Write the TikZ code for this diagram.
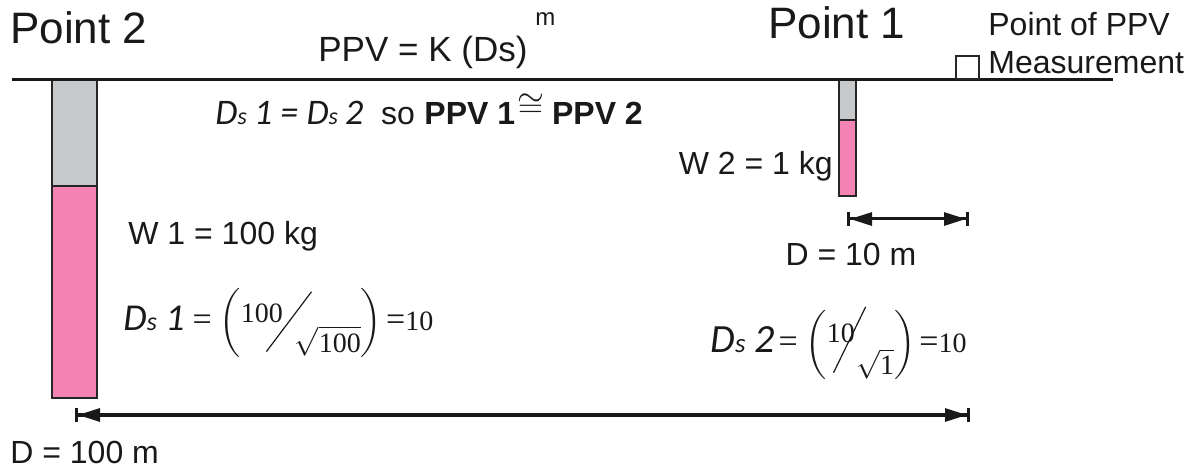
\documentclass[tikz,border=0pt]{standalone}
\usepackage{fontspec}
\usepackage{graphicx}
\usepackage{amsmath}
\usetikzlibrary{arrows.meta,positioning}
\setmainfont{Liberation Serif}
\setsansfont{Liberation Sans}
\newfontfamily\dsfont{Carlito}
\definecolor{chargepink}{HTML}{F283B4}
\definecolor{stemgray}{HTML}{C8C9CB}
\newcommand{\dsterm}[3]{{\dsfont\itshape\fontsize{#1}{#1}\selectfont D{\fontsize{#2}{#2}\selectfont s}\kern0.22em #3}}
\newcommand{\slbar}[2]{\rotatebox{#1}{\rule{#2}{0.6pt}}}
\newcommand{\eqsign}{{\fontsize{17}{17}\selectfont=}}
\tikzset{
  lbl/.style={font=\sffamily\fontsize{16}{19}\selectfont, inner sep=0pt, text=black!90},
  title/.style={font=\sffamily\fontsize{22}{26}\selectfont, inner sep=0pt, text=black!90},
  formula/.style={font=\rmfamily\fontsize{14}{16}\selectfont, inner sep=0pt, text=black!90},
  stem/.style={draw=black!85, line width=1pt, fill=stemgray},
  charge/.style={draw=black!85, line width=1pt, fill=chargepink},
  ground/.style={line width=1.5pt, draw=black!90},
  dimarrow/.style={{Bar[width=7pt]Triangle[length=11pt,width=6.5pt]}-{Triangle[length=11pt,width=6.5pt]Bar[width=7pt]}, line width=1.5pt, draw=black!90}
}

\begin{document}
\begin{tikzpicture}[x=0.5pt, y=-0.5pt]
  \useasboundingbox (0,0) rectangle (1191,476);

  % blast holes: stemming over charge
  \draw[stem] (52,80) rectangle (97,186);
  \draw[charge] (52,186) rectangle (97,398);
  \draw[stem] (839,80) rectangle (856,120);
  \draw[charge] (839,120) rectangle (856,196);

  % ground surface
  \coordinate (g0) at (12,80);
  \coordinate (g1) at (1113,80);
  \draw[ground] (g0) -- (g1);
  \node[draw=black!85, line width=1pt, anchor=south west, minimum size=11.5pt, inner sep=0pt] (gauge) at (955,80) {};

  \node[title, anchor=base west] (pt2) at (10,44) {Point 2};
  \node[title, anchor=base west] (pt1) at (768,39) {Point 1};
  \node[lbl, font=\sffamily\fontsize{17.5}{20}\selectfont, anchor=base west] (law) at (318,62)
    {PPV = K (Ds)\kern4pt\raisebox{18pt}{\fontsize{12}{14}\selectfont m}};
  \node[lbl, anchor=base west] (ptppv) at (988,36) {Point of PPV};
  \node[lbl, anchor=base west] (meas) at (988,74) {Measurement};

  \node[lbl, anchor=base west] (same) at (215,125)
    {{\dsfont\itshape\fontsize{18}{18}\selectfont D{\fontsize{12}{12}\selectfont s}\kern0.2em1 = D{\fontsize{12}{12}\selectfont s}\kern0.2em2}\hspace{0.55em}so\hspace{0.3em}{\bfseries PPV 1}\kern1pt\raisebox{4pt}{\fontsize{19}{19}\selectfont$\cong$}\kern4pt{\bfseries PPV 2}};

  \node[lbl, anchor=base east] (w2) at (833,175) {W 2 = 1 kg};
  \node[lbl, anchor=base west] (w1) at (128,245) {W 1 = 100 kg};

  % distances to the gauge
  \coordinate (d10a) at (847,219);
  \coordinate (d10b) at (969,219);
  \draw[dimarrow] (d10a) -- (d10b);
  \node[lbl, anchor=base] (d10) at (851,266) {D = 10 m};
  \coordinate (d100a) at (75,415);
  \coordinate (d100b) at (970,415);
  \draw[dimarrow] (d100a) -- (d100b);
  \node[lbl, anchor=base west] (d100) at (10,464) {D = 100 m};

  % scaled distances
  \node[formula, anchor=base west] (ds1) at (123,330)
    {\dsterm{19}{13}{1}\kern4pt\eqsign\kern4pt$\left(\raisebox{4pt}{100}\kern-8.5pt\raisebox{-11pt}{\slbar{53}{37.5pt}}\kern-8.5pt\raisebox{-11pt}{$\sqrt{\mbox{100}}$}\right)$\kern2pt\eqsign10};
  \node[formula, anchor=base west] (ds2) at (710,352)
    {\dsterm{20}{13.5}{2}\kern2pt\eqsign\kern4pt$\left(\raisebox{5pt}{10}\kern-11pt\raisebox{-10.5pt}{\slbar{64}{36.7pt}}\kern-5pt\raisebox{-11.5pt}{$\sqrt{\mbox{1}}$}\right)$\kern2pt\eqsign10};
\end{tikzpicture}
\end{document}
